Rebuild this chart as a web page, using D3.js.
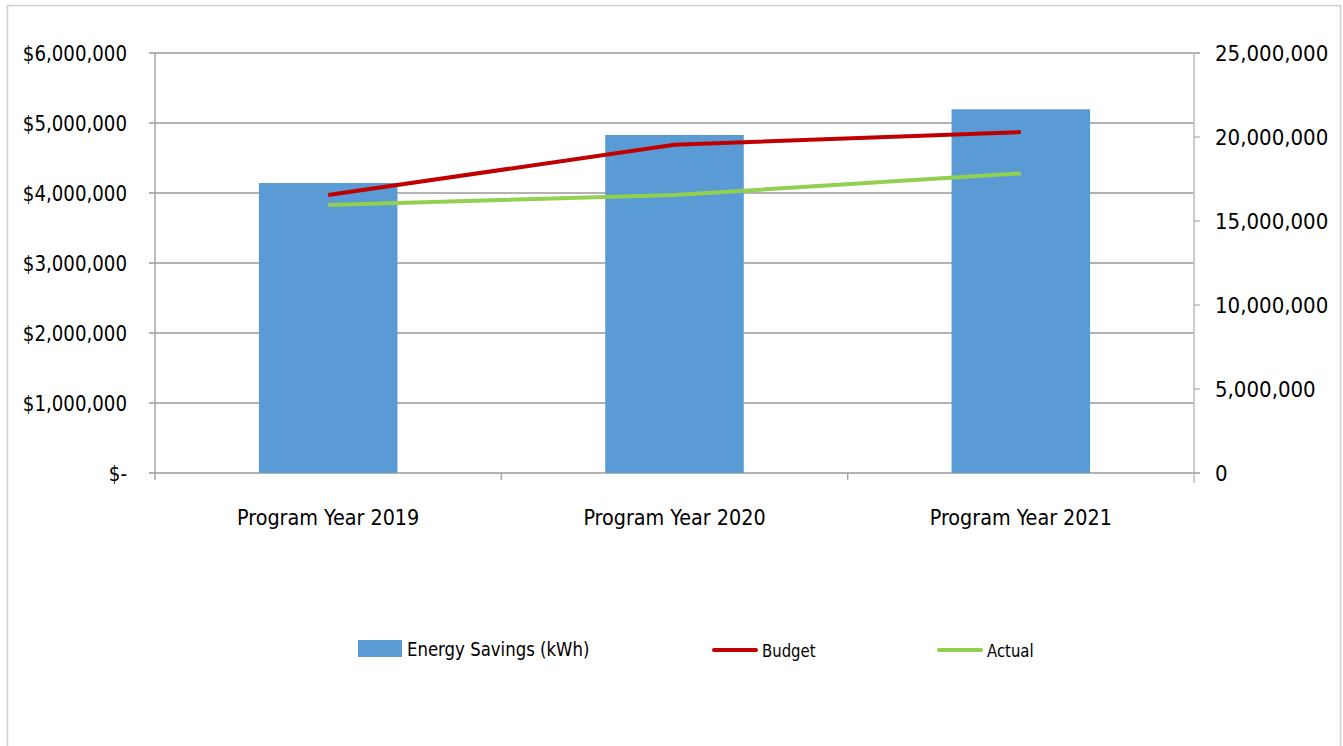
<!DOCTYPE html>
<html>
<head>
<meta charset="utf-8">
<script src="https://cdn.jsdelivr.net/npm/d3@7"></script>
<style>
  body { margin: 0; background: #fff; }
  svg text { font-family: "Liberation Sans Narrow", "DejaVu Sans Condensed", sans-serif; fill: #000; }
</style>
</head>
<body>
<div id="chart"></div>
<script>
// Chart data
const years = ["Program Year 2019", "Program Year 2020", "Program Year 2021"];
const energySavings = [17260000, 20120000, 21650000];   // kWh, right axis
const budget = [3970000, 4690000, 4870000];              // $, left axis
const actual = [3830000, 3970000, 4280000];              // $, left axis
const dollarTicks = [0, 1000000, 2000000, 3000000, 4000000, 5000000, 6000000];
const kwhTicks = [0, 5000000, 10000000, 15000000, 20000000, 25000000];

const width = 1343, height = 746;
const margin = {left: 155, right: 149, top: 53, bottom: 273};

const svg = d3.select("#chart")
    .append("svg")
    .attr("width", width)
    .attr("height", height);

// Outer chart border
svg.append("rect")
    .attr("x", 7.5).attr("y", 5.5)
    .attr("width", 1333).attr("height", 760)
    .attr("fill", "none")
    .attr("stroke", "#cfcfcf")
    .attr("stroke-width", 1.5);

const x = d3.scaleBand()
    .domain(years)
    .range([margin.left, width - margin.right])
    .paddingInner(0.6)
    .paddingOuter(0.3);

const xOuter = d3.scaleBand()
    .domain(years)
    .range([margin.left, width - margin.right]);

const yLeft = d3.scaleLinear()
    .domain([0, 6000000])
    .range([height - margin.bottom, margin.top]);

const yRight = d3.scaleLinear()
    .domain([0, 25000000])
    .range([height - margin.bottom, margin.top]);

const x0 = margin.left, x1 = width - margin.right;
const yBottom = height - margin.bottom;

// Gridlines (left axis ticks)
svg.append("g")
    .selectAll("line")
    .data(dollarTicks)
    .enter().append("line")
    .attr("x1", x0 - 6)
    .attr("x2", d => d === 6000000 ? x1 + 6 : x1)
    .attr("y1", d => yLeft(d))
    .attr("y2", d => yLeft(d))
    .attr("stroke", "#9a9a9a")
    .attr("stroke-width", 1.5);

// Bars
svg.append("g")
    .selectAll("rect")
    .data(energySavings)
    .enter().append("rect")
    .attr("x", (d, i) => x(years[i]))
    .attr("y", d => yRight(d))
    .attr("width", x.bandwidth())
    .attr("height", d => yBottom - yRight(d))
    .attr("fill", "#5b9bd5");

// Axis lines
svg.append("line")
    .attr("x1", x0).attr("x2", x0)
    .attr("y1", margin.top).attr("y2", yBottom + 7)
    .attr("stroke", "#a6a6a6").attr("stroke-width", 1.5);
svg.append("line")
    .attr("x1", x1).attr("x2", x1)
    .attr("y1", margin.top).attr("y2", yBottom + 10)
    .attr("stroke", "#bdbdbd").attr("stroke-width", 1.5);
svg.append("line")
    .attr("x1", x1).attr("x2", x1 + 6)
    .attr("y1", yBottom).attr("y2", yBottom)
    .attr("stroke", "#9a9a9a").attr("stroke-width", 1.5);

// Right axis ticks
svg.append("g")
    .selectAll("line")
    .data(kwhTicks.filter(d => d > 0 && d < 25000000))
    .enter().append("line")
    .attr("x1", x1).attr("x2", x1 + 6)
    .attr("y1", d => yRight(d)).attr("y2", d => yRight(d))
    .attr("stroke", "#bdbdbd").attr("stroke-width", 1.5);

// Category ticks
svg.append("g")
    .selectAll("line")
    .data(years.slice(1))
    .enter().append("line")
    .attr("x1", d => xOuter(d)).attr("x2", d => xOuter(d))
    .attr("y1", yBottom).attr("y2", yBottom + 7)
    .attr("stroke", "#a6a6a6").attr("stroke-width", 1.5);

// Left axis labels (slightly narrowed to match the condensed look)
const fmtDollar = d => d === 0 ? "$-" : "$" + d3.format(",")(d);
svg.append("g")
    .selectAll("text")
    .data(dollarTicks)
    .enter().append("text")
    .attr("transform", d => `translate(127,${yLeft(d)}) scale(0.92,1)`)
    .attr("dy", "0.36em")
    .attr("text-anchor", "end")
    .attr("font-size", 22)
    .text(fmtDollar);

// Right axis labels
svg.append("g")
    .selectAll("text")
    .data(kwhTicks)
    .enter().append("text")
    .attr("x", 1215)
    .attr("y", d => yRight(d))
    .attr("dy", "0.36em")
    .attr("font-size", 22)
    .text(d => d3.format(",")(d));

// Category labels
svg.append("g")
    .selectAll("text")
    .data(years)
    .enter().append("text")
    .attr("transform", d => `translate(${xOuter(d) + xOuter.bandwidth() / 2},525) scale(0.97,1)`)
    .attr("text-anchor", "middle")
    .attr("font-size", 22)
    .text(d => d);

// Lines
const line = d3.line()
    .x((d, i) => xOuter(years[i]) + xOuter.bandwidth() / 2)
    .y(d => yLeft(d));

svg.append("path")
    .datum(budget)
    .attr("d", line)
    .attr("fill", "none")
    .attr("stroke", "#c00000")
    .attr("stroke-width", 4);

svg.append("path")
    .datum(actual)
    .attr("d", line)
    .attr("fill", "none")
    .attr("stroke", "#92d050")
    .attr("stroke-width", 4);

// Legend
const legend = svg.append("g");
legend.append("rect")
    .attr("x", 358).attr("y", 640)
    .attr("width", 44).attr("height", 17)
    .attr("fill", "#5b9bd5");
legend.append("text")
    .attr("transform", "translate(407,656) scale(0.92,1)")
    .attr("font-size", 20)
    .text("Energy Savings (kWh)");

legend.append("line")
    .attr("x1", 714).attr("x2", 756)
    .attr("y1", 650).attr("y2", 650)
    .attr("stroke", "#c00000").attr("stroke-width", 4)
    .attr("stroke-linecap", "round");
legend.append("text")
    .attr("transform", "translate(762,657) scale(0.92,1)")
    .attr("font-size", 18)
    .text("Budget");

legend.append("line")
    .attr("x1", 939).attr("x2", 981)
    .attr("y1", 650).attr("y2", 650)
    .attr("stroke", "#92d050").attr("stroke-width", 4)
    .attr("stroke-linecap", "round");
legend.append("text")
    .attr("transform", "translate(987,657) scale(0.92,1)")
    .attr("font-size", 18)
    .text("Actual");
</script>
</body>
</html>
